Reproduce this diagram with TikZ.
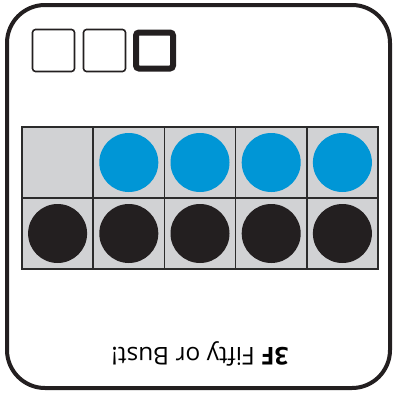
\documentclass[tikz,border=0pt]{standalone}
\usepackage{fontspec}
\setmainfont{Open Sans}
\definecolor{cellgray}{HTML}{D1D2D4}
\definecolor{dotblue}{HTML}{0096D6}
\definecolor{dotblack}{HTML}{231F20}
\definecolor{gridline}{HTML}{2B2B2B}
\begin{document}
\begin{tikzpicture}[x=1pt,y=-1pt,
  cell/.style={fill=cellgray,draw=gridline,line width=1.6pt},
  bluedot/.style={circle,fill=dotblue,minimum size=59pt,inner sep=0pt},
  blackdot/.style={circle,fill=dotblack,minimum size=59pt,inner sep=0pt},
  smallbox/.style={draw=dotblack,line width=1.6pt,rounded corners=3pt},
  thickbox/.style={draw=dotblack,line width=6pt,rounded corners=3pt}]
\useasboundingbox (0,0) rectangle (393,394);
% card frame
\draw[draw=dotblack,line width=4pt,rounded corners=38pt] (7,5) rectangle (390,388);
% small boxes
\draw[smallbox] (32.5,29.5) rectangle (74.5,71.5);
\draw[smallbox] (83.5,29.5) rectangle (125.5,71.5);
\draw[thickbox] (136,32.5) rectangle (173,68.5);
% ten frame
\foreach \i in {0,...,4} {
  \draw[cell] ({22+71.2*\i},127) rectangle ({22+71.2*(\i+1)},198);
  \draw[cell] ({22+71.2*\i},198) rectangle ({22+71.2*(\i+1)},269);
}
\foreach \i in {1,...,4} {
  \node[bluedot] (b\i) at ({57.6+71.2*\i},162.5) {};
}
\foreach \i in {0,...,4} {
  \node[blackdot] (k\i) at ({57.6+71.2*\i},233.5) {};
}
% label
\node[rotate=180,font=\fontsize{24.5}{28}\selectfont,inner sep=0pt] (lbl) at (200,354) {\textbf{3F} Fifty or Bust!};
\end{tikzpicture}
\end{document}
